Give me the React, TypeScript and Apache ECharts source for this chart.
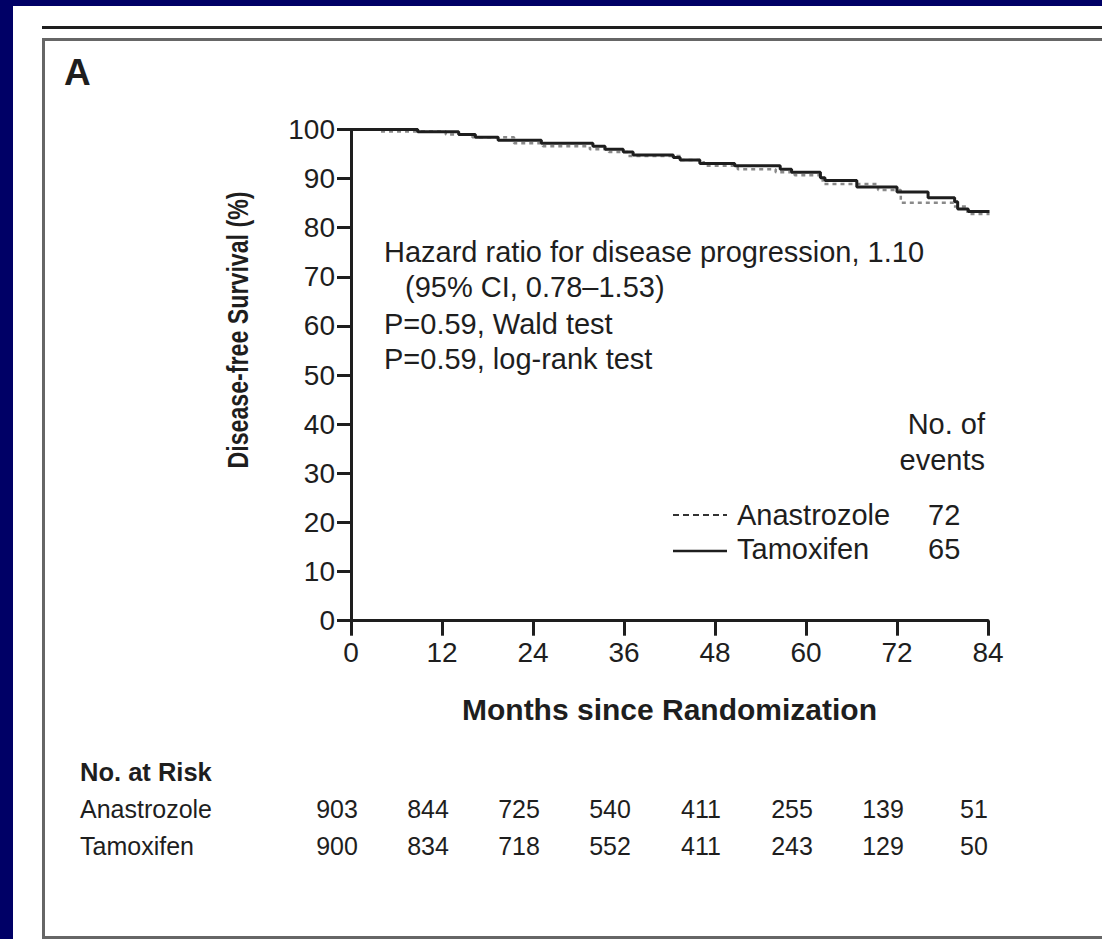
import React, { useEffect, useRef } from "react";
import * as echarts from "echarts";

const FONT = '"Liberation Sans", Arial, Helvetica, sans-serif';
const INK = "#1e1e1e";

// Months since randomization at which the numbers at risk are reported
const riskMonths = [0, 12, 24, 36, 48, 60, 72, 84];
const anastrozoleAtRisk = [903, 844, 725, 540, 411, 255, 139, 51];
const tamoxifenAtRisk = [900, 834, 718, 552, 411, 243, 129, 50];

// Kaplan-Meier estimates: [month, disease-free survival %]
const tamoxifenCurve: [number, number][] = [
  [0, 100], [8.8, 99.55], [14.2, 99.0], [16.4, 98.4], [19.4, 97.8], [25.1, 97.2],
  [31.9, 96.6], [33.5, 96.0], [35.9, 95.4], [37.2, 94.8], [42.5, 94.3], [43.4, 93.8],
  [46.0, 93.1], [50.6, 92.6], [56.6, 91.9], [58.1, 91.3], [61.9, 90.2], [62.5, 89.6],
  [66.7, 88.3], [72.0, 87.3], [76.1, 86.1], [79.6, 85.3], [80.0, 83.8], [81.4, 83.3],
  [84.2, 83.3],
];
const anastrozoleCurve: [number, number][] = [
  [0, 100], [3.5, 99.6], [12.5, 99.0], [16.0, 98.4], [21.5, 97.2], [25.3, 96.6],
  [31.5, 96.0], [34.0, 95.4], [36.5, 94.6], [43.5, 93.8], [46.5, 92.6], [51.0, 91.9],
  [56.0, 91.3], [58.5, 90.7], [62.2, 88.9], [69.5, 87.7], [72.5, 85.1], [79.5, 84.3],
  [81.3, 82.8], [84.2, 82.8],
];

const anastrozoleEvents = 72;
const tamoxifenEvents = 65;

const statLines = [
  "Hazard ratio for disease progression, 1.10",
  "(95% CI, 0.78\u20131.53)",
  "P=0.59, Wald test",
  "P=0.59, log-rank test",
];

function txt(x: number, y: number, text: string, size: number, opts: any = {}) {
  const align = opts.align || "left";
  return {
    type: "text",
    x,
    y,
    rotation: opts.rotation || 0,
    scaleX: opts.scaleX || 1,
    silent: true,
    style: {
      text,
      fontSize: size,
      fontFamily: FONT,
      fontWeight: opts.weight || "normal",
      fill: opts.color || INK,
      align,
      textAlign: align,
      verticalAlign: "middle",
      textVerticalAlign: "middle",
    },
  };
}

export default function App() {
  const ref = useRef<HTMLDivElement>(null);

  useEffect(() => {
    if (!ref.current) return;
    const chart = echarts.init(ref.current, undefined, { renderer: "svg" });

    chart.setOption({
      animation: false,
      backgroundColor: "#ffffff",
      grid: { left: 351, right: 114, top: 129.5, bottom: 318.3, containLabel: false },
      xAxis: {
        type: "value",
        min: 0,
        max: 84,
        interval: 12,
        name: "Months since Randomization",
        nameLocation: "middle",
        nameGap: 74,
        nameTextStyle: { fontFamily: FONT, fontSize: 30, fontWeight: "bold", color: INK },
        axisLine: { show: true, onZero: false, lineStyle: { color: INK, width: 3 } },
        axisTick: { show: true, length: 15, lineStyle: { color: INK, width: 3 } },
        axisLabel: { margin: 18, fontFamily: FONT, fontSize: 28, color: INK },
        splitLine: { show: false },
      },
      yAxis: {
        type: "value",
        min: 0,
        max: 100,
        interval: 10,
        axisLine: { show: true, onZero: false, lineStyle: { color: INK, width: 3 } },
        axisTick: { show: true, length: 14, lineStyle: { color: INK, width: 3 } },
        axisLabel: { margin: 16, fontFamily: FONT, fontSize: 28, color: INK },
        splitLine: { show: false },
      },
      series: [
        {
          type: "line",
          name: "Anastrozole",
          data: anastrozoleCurve,
          step: "end",
          symbol: "none",
          clip: false,
          z: 2,
          lineStyle: { color: "#8a8a8a", width: 2.5, type: [4, 4] },
        },
        {
          type: "line",
          name: "Tamoxifen",
          data: tamoxifenCurve,
          step: "end",
          symbol: "none",
          clip: false,
          z: 3,
          lineStyle: { color: INK, width: 3, type: "solid" },
        },
      ],
    });

    const g: any[] = [];
    // page frame
    g.push({ type: "rect", shape: { x: 0, y: 0, width: 1102, height: 6 }, style: { fill: "#000066" }, silent: true });
    g.push({ type: "rect", shape: { x: 0, y: 0, width: 13, height: 939 }, style: { fill: "#000066" }, silent: true });
    g.push({ type: "rect", shape: { x: 42, y: 26, width: 1060, height: 3 }, style: { fill: INK }, silent: true });
    g.push({
      type: "rect",
      shape: { x: 43.5, y: 39.5, width: 1100, height: 898 },
      style: { fill: "none", stroke: "#666666", lineWidth: 3 },
      silent: true,
    });

    // panel letter and y-axis title
    g.push(txt(64, 72, "A", 37, { weight: "bold" }));
    g.push(txt(238, 330, "Disease-free Survival (%)", 29, { weight: "bold", rotation: Math.PI / 2, scaleX: 0.8, align: "center" }));

    // statistics block
    const statX = [384, 405, 384, 384];
    const statY = [252, 287, 324, 359];
    statLines.forEach((s, i) => g.push(txt(statX[i], statY[i], s, 29)));

    // legend with event counts
    g.push(txt(985, 424, "No. of", 29, { align: "right" }));
    g.push(txt(985, 460, "events", 29, { align: "right" }));
    g.push({
      type: "line",
      shape: { x1: 673, y1: 515, x2: 727, y2: 515 },
      style: { stroke: "#333333", lineWidth: 2, lineDash: [6, 4] },
      silent: true,
    });
    g.push({
      type: "line",
      shape: { x1: 673, y1: 551, x2: 727, y2: 551 },
      style: { stroke: INK, lineWidth: 2.5 },
      silent: true,
    });
    g.push(txt(737, 515, "Anastrozole", 29));
    g.push(txt(737, 549, "Tamoxifen", 29));
    g.push(txt(928, 515, String(anastrozoleEvents), 29));
    g.push(txt(928, 549, String(tamoxifenEvents), 29));

    // numbers at risk table
    g.push(txt(80, 772, "No. at Risk", 25.5, { weight: "bold" }));
    g.push(txt(80, 809, "Anastrozole", 25));
    g.push(txt(80, 846, "Tamoxifen", 25));
    riskMonths.forEach((m, i) => {
      const px = chart.convertToPixel({ xAxisIndex: 0 }, m) as number;
      g.push(txt(px - 14, 809, String(anastrozoleAtRisk[i]), 25, { align: "center" }));
      g.push(txt(px - 14, 846, String(tamoxifenAtRisk[i]), 25, { align: "center" }));
    });

    chart.setOption({ graphic: { elements: g } });

    return () => chart.dispose();
  }, []);

  return (
    <div
      ref={ref}
      style={{ position: "fixed", left: 0, top: 0, width: 1102, height: 939 }}
    />
  );
}
